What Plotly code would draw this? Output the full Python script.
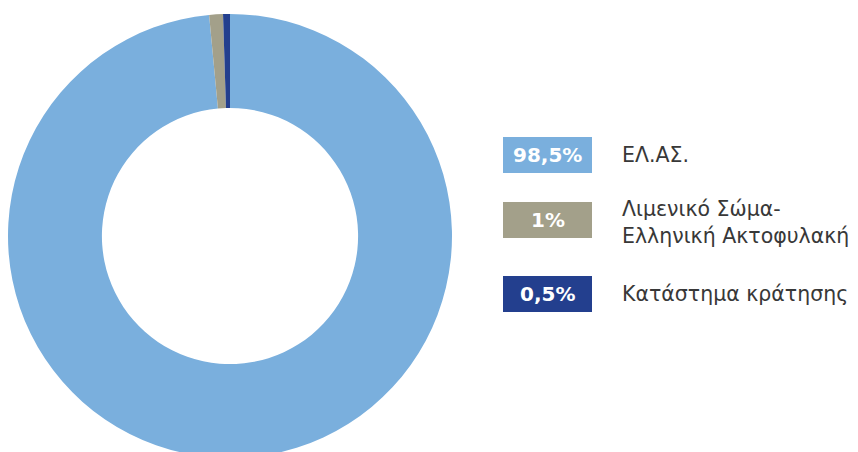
import plotly.graph_objects as go

# Data
categories = ["ΕΛ.ΑΣ.", "Λιμενικό Σώμα-<br>Ελληνική Ακτοφυλακή", "Κατάστημα κράτησης"]
values = [98.5, 1, 0.5]
pct_labels = ["98,5%", "1%", "0,5%"]
colors = ["#7AAFDD", "#A3A08A", "#233F8E"]

W, H = 858, 458
FONT = "DejaVu Sans"

def py(px):
    return 1 - px / H

fig = go.Figure()
fig.add_trace(go.Pie(
    values=values,
    labels=categories,
    marker=dict(colors=colors, line=dict(width=0)),
    hole=0.577,
    sort=False,
    direction="clockwise",
    rotation=0,
    textinfo="none",
    hoverinfo="label+percent",
    showlegend=False,
    domain=dict(x=[8 / W, 452 / W], y=[0, py(14)]),
))

# Custom legend: coloured boxes with percentage, then label
box_x0, box_x1 = 503, 592
box_tops = [137, 202, 276]
box_h = 36
text_x = 620
for i, (cat, pct, col) in enumerate(zip(categories, pct_labels, colors)):
    y0 = box_tops[i]
    y1 = y0 + box_h
    fig.add_shape(
        type="rect", xref="paper", yref="paper",
        x0=box_x0 / W, x1=box_x1 / W,
        y0=py(y1), y1=py(y0),
        fillcolor=col, line=dict(width=0),
    )
    fig.add_annotation(
        xref="paper", yref="paper",
        x=(box_x0 + box_x1) / 2 / W, y=py((y0 + y1) / 2),
        text=f"<b>{pct}</b>", showarrow=False,
        font=dict(family=FONT, size=20, color="white"),
        xanchor="center", yanchor="middle",
    )
    fig.add_annotation(
        xref="paper", yref="paper",
        x=text_x / W, y=py((y0 + y1) / 2 + (2 if i == 1 else 0)),
        text=cat, showarrow=False, align="left",
        font=dict(family=FONT, size=20.5, color="#383838"),
        xanchor="left", yanchor="middle",
    )

fig.update_layout(
    width=W, height=H,
    margin=dict(l=0, r=0, t=0, b=0),
    paper_bgcolor="white",
    plot_bgcolor="white",
)

fig.write_html(
    "out.html",
    config={"displayModeBar": False},
    post_script="document.body.style.margin='0';document.body.style.overflow='hidden';",
)
